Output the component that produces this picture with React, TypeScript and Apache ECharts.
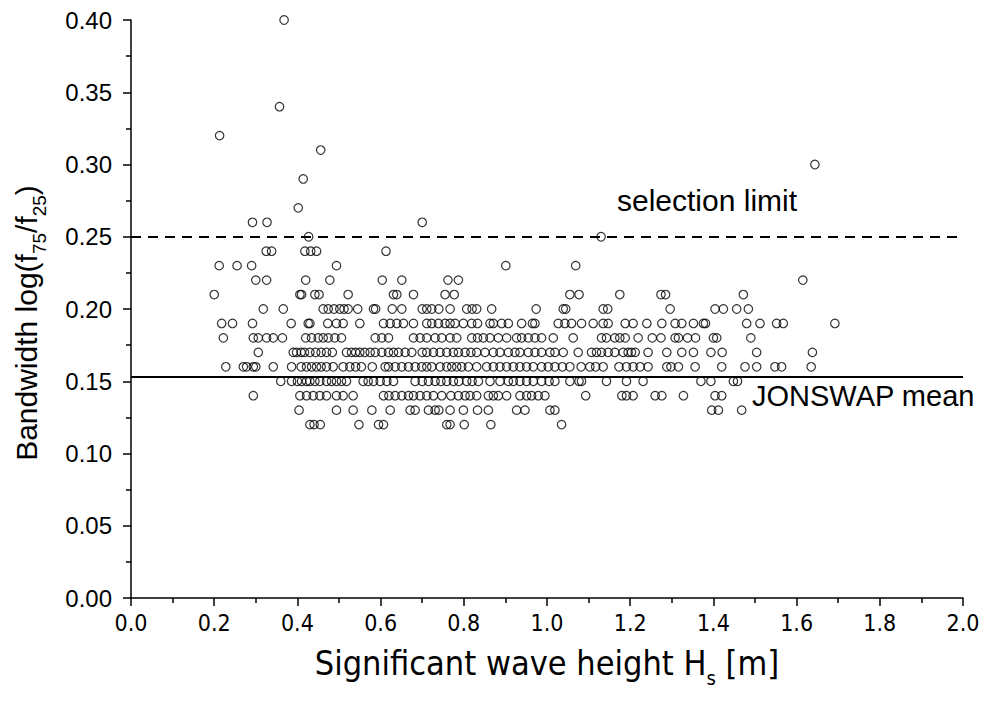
import React, { useEffect, useRef } from "react";
import * as echarts from "echarts";

// Significant wave height Hs [m] for each bandwidth level log(f75/f25)
const hsAt040 = [0.368];
const hsAt034 = [0.357];
const hsAt032 = [0.213];
const hsAt031 = [0.456];
const hsAt030 = [1.644];
const hsAt029 = [0.414];
const hsAt027 = [0.402];
const hsAt026 = [0.292, 0.327, 0.70];
const hsAt025 = [0.427, 1.13];
const hsAt024 = [0.325, 0.338, 0.418, 0.432, 0.446, 0.613];
const hsAt023 = [0.212, 0.255, 0.29, 0.494, 0.901, 1.069];
const hsAt022 = [0.30, 0.326, 0.42, 0.478, 0.604, 0.651, 0.762, 0.787, 1.615];
const hsAt021 = [0.20, 0.406, 0.41, 0.442, 0.452, 0.522, 0.631, 0.639, 0.679, 0.755, 0.777, 1.055, 1.077, 1.175, 1.274, 1.285, 1.472];
const hsAt020 = [0.318, 0.366, 0.462, 0.474, 0.488, 0.502, 0.512, 0.522, 0.545, 0.583, 0.588, 0.628, 0.651, 0.70, 0.711, 0.723, 0.74, 0.767, 0.807, 0.82, 0.831, 0.867, 0.974, 1.039, 1.045, 1.135, 1.146, 1.296, 1.404, 1.424, 1.456, 1.484];
const hsAt019 = [0.218, 0.244, 0.292, 0.385, 0.426, 0.43, 0.473, 0.494, 0.51, 0.55, 0.607, 0.623, 0.639, 0.655, 0.679, 0.711, 0.723, 0.739, 0.755, 0.767, 0.779, 0.799, 0.819, 0.833, 0.863, 0.871, 0.891, 0.907, 0.939, 0.965, 0.971, 1.027, 1.043, 1.059, 1.083, 1.111, 1.135, 1.147, 1.188, 1.207, 1.24, 1.276, 1.308, 1.324, 1.352, 1.376, 1.381, 1.48, 1.512, 1.552, 1.568, 1.692];
const hsAt018 = [0.222, 0.294, 0.306, 0.326, 0.342, 0.364, 0.42, 0.434, 0.45, 0.462, 0.474, 0.49, 0.506, 0.587, 0.603, 0.619, 0.679, 0.695, 0.711, 0.731, 0.747, 0.767, 0.783, 0.819, 0.833, 0.847, 0.863, 0.883, 0.903, 0.927, 0.939, 0.955, 0.971, 0.987, 1.015, 1.063, 1.131, 1.143, 1.163, 1.175, 1.188, 1.219, 1.253, 1.274, 1.308, 1.316, 1.338, 1.357, 1.40, 1.408, 1.49];
const hsAt017 = [0.306, 0.39, 0.398, 0.409, 0.417, 0.43, 0.444, 0.457, 0.47, 0.484, 0.518, 0.53, 0.54, 0.55, 0.562, 0.575, 0.587, 0.603, 0.619, 0.631, 0.643, 0.659, 0.675, 0.70, 0.711, 0.727, 0.743, 0.759, 0.775, 0.787, 0.803, 0.817, 0.831, 0.851, 0.871, 0.887, 0.907, 0.923, 0.935, 0.955, 0.971, 0.987, 1.007, 1.019, 1.039, 1.075, 1.107, 1.119, 1.131, 1.147, 1.163, 1.183, 1.195, 1.203, 1.212, 1.243, 1.288, 1.324, 1.352, 1.394, 1.421, 1.504, 1.638];
const hsAt016 = [0.228, 0.27, 0.278, 0.294, 0.30, 0.342, 0.386, 0.409, 0.422, 0.434, 0.446, 0.457, 0.47, 0.486, 0.51, 0.526, 0.54, 0.554, 0.58, 0.611, 0.619, 0.635, 0.651, 0.667, 0.683, 0.699, 0.711, 0.723, 0.743, 0.759, 0.771, 0.783, 0.795, 0.811, 0.831, 0.855, 0.871, 0.887, 0.903, 0.919, 0.935, 0.951, 0.967, 0.987, 1.003, 1.019, 1.037, 1.055, 1.082, 1.103, 1.117, 1.135, 1.173, 1.191, 1.207, 1.224, 1.243, 1.288, 1.298, 1.316, 1.356, 1.42, 1.476, 1.504, 1.548, 1.564, 1.635];
const hsAt015 = [0.36, 0.386, 0.40, 0.41, 0.422, 0.43, 0.442, 0.454, 0.47, 0.482, 0.494, 0.506, 0.518, 0.558, 0.57, 0.583, 0.599, 0.615, 0.631, 0.683, 0.70, 0.715, 0.731, 0.745, 0.759, 0.775, 0.788, 0.807, 0.82, 0.835, 0.863, 0.887, 0.907, 0.919, 0.935, 0.951, 0.967, 0.987, 1.005, 1.019, 1.055, 1.077, 1.083, 1.143, 1.191, 1.231, 1.37, 1.394, 1.448, 1.458];
const hsAt014 = [0.294, 0.406, 0.422, 0.438, 0.454, 0.47, 0.494, 0.51, 0.534, 0.607, 0.62, 0.635, 0.651, 0.667, 0.679, 0.695, 0.711, 0.727, 0.747, 0.769, 0.787, 0.803, 0.815, 0.831, 0.859, 0.871, 0.883, 0.903, 0.935, 0.951, 0.963, 0.979, 0.995, 1.093, 1.18, 1.191, 1.207, 1.26, 1.276, 1.328, 1.404, 1.42];
const hsAt013 = [0.404, 0.494, 0.534, 0.579, 0.623, 0.671, 0.683, 0.715, 0.731, 0.74, 0.767, 0.799, 0.833, 0.859, 0.927, 0.947, 1.007, 1.019, 1.396, 1.412, 1.468];
const hsAt012 = [0.43, 0.44, 0.455, 0.548, 0.595, 0.607, 0.759, 0.767, 0.801, 0.865, 1.035];

const bandwidthLevels: [number, number[]][] = [
  [0.40, hsAt040], [0.34, hsAt034], [0.32, hsAt032], [0.31, hsAt031], [0.30, hsAt030],
  [0.29, hsAt029], [0.27, hsAt027], [0.26, hsAt026], [0.25, hsAt025], [0.24, hsAt024],
  [0.23, hsAt023], [0.22, hsAt022], [0.21, hsAt021], [0.20, hsAt020], [0.19, hsAt019],
  [0.18, hsAt018], [0.17, hsAt017], [0.16, hsAt016], [0.15, hsAt015], [0.14, hsAt014],
  [0.13, hsAt013], [0.12, hsAt012],
];

const selectionLimit = 0.25;
const jonswapMean = 0.153;

const SANS = "'Liberation Sans', Arial, Helvetica, sans-serif";
const NARROW = "'Liberation Sans Narrow', 'Arial Narrow', 'DejaVu Sans Condensed', 'Liberation Sans', sans-serif";

export default function App() {
  const ref = useRef<HTMLDivElement>(null);
  useEffect(() => {
    if (!ref.current) return;
    const chart = echarts.init(ref.current, null, { renderer: "svg" });
    const data: number[][] = [];
    bandwidthLevels.forEach(([bw, xs]) => xs.forEach((x) => data.push([x, bw])));

    chart.setOption({
      animation: false,
      backgroundColor: "#fff",
      grid: { left: 131, right: 23, top: 20, bottom: 104, containLabel: false },
      xAxis: {
        type: "value",
        min: 0,
        max: 2,
        interval: 0.2,
        name: "Significant wave height H{sub|s} [m]",
        nameLocation: "middle",
        nameGap: 40,
        nameTextStyle: {
          fontFamily: NARROW,
          fontSize: 34,
          color: "#000",
          rich: {
            sub: { fontFamily: NARROW, fontSize: 20, color: "#000", verticalAlign: "bottom", padding: [30, 0, 0, 0] },
          },
        },
        axisLine: { show: true, onZero: false, lineStyle: { color: "#000", width: 1.5 } },
        axisTick: { show: true, inside: false, length: 8, lineStyle: { color: "#000", width: 1.5 } },
        minorTick: { show: true, splitNumber: 2, length: 5, lineStyle: { color: "#000", width: 1.5 } },
        splitLine: { show: false },
        minorSplitLine: { show: false },
        axisLabel: {
          color: "#000",
          fontFamily: NARROW,
          fontSize: 23,
          margin: 13,
          formatter: (v: number) => v.toFixed(1),
        },
      },
      yAxis: {
        type: "value",
        min: 0,
        max: 0.4,
        interval: 0.05,
        name: "Bandwidth log(f{sub|75}/f{sub|25})",
        nameLocation: "middle",
        nameGap: 82,
        nameTextStyle: {
          fontFamily: SANS,
          fontSize: 30,
          color: "#000",
          padding: [0, 28, 0, 0],
          rich: {
            sub: { fontFamily: SANS, fontSize: 19, color: "#000", verticalAlign: "bottom", padding: [26, 0, 0, 0] },
          },
        },
        axisLine: { show: true, onZero: false, lineStyle: { color: "#000", width: 1.5 } },
        axisTick: { show: true, inside: false, length: 8, lineStyle: { color: "#000", width: 1.5 } },
        minorTick: { show: true, splitNumber: 2, length: 5, lineStyle: { color: "#000", width: 1.5 } },
        splitLine: { show: false },
        minorSplitLine: { show: false },
        axisLabel: {
          color: "#000",
          fontFamily: SANS,
          fontSize: 24,
          margin: 19,
          formatter: (v: number) => v.toFixed(2),
        },
      },
      series: [
        {
          type: "scatter",
          data,
          symbol: "circle",
          symbolSize: 8.5,
          itemStyle: { color: "rgba(0,0,0,0)", borderColor: "#000", borderWidth: 1.2 },
          silent: true,
          markLine: {
            silent: true,
            precision: 3,
            symbol: ["none", "none"],
            label: { show: false },
            data: [
              { yAxis: selectionLimit, lineStyle: { type: [10, 7], color: "#000", width: 2 } },
              { yAxis: jonswapMean, lineStyle: { type: "solid", color: "#000", width: 2 } },
            ],
          },
        },
      ],
      graphic: [
        {
          type: "text",
          x: 617,
          y: 200,
          style: { text: "selection limit", font: `30px ${SANS}`, fill: "#000", verticalAlign: "middle" },
        },
        {
          type: "text",
          x: 752,
          y: 396,
          style: { text: "JONSWAP mean", font: `29px ${SANS}`, fill: "#000", verticalAlign: "middle" },
        },
      ],
    });
    return () => chart.dispose();
  }, []);
  return (
    <div
      ref={ref}
      style={{ position: "fixed", left: 0, top: 0, width: 986, height: 702, overflow: "hidden" }}
    />
  );
}
